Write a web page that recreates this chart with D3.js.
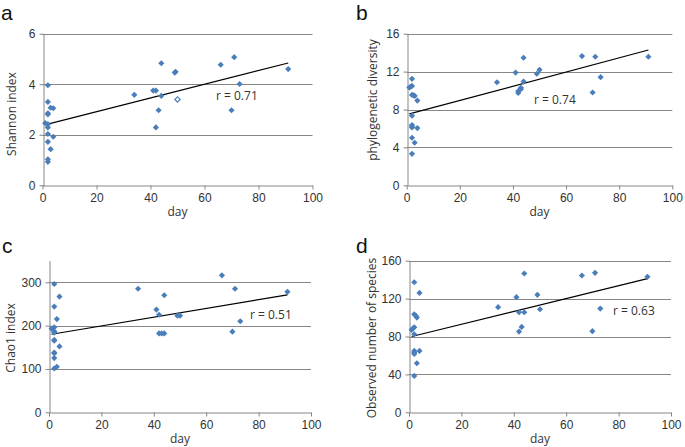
<!DOCTYPE html>
<html>
<head>
<meta charset="utf-8">
<script src="https://cdn.jsdelivr.net/npm/d3@7"></script>
<style>
  body { margin: 0; background: #fff; }
  svg { display: block; font-family: "Open Sans", "Liberation Sans", sans-serif; }
</style>
</head>
<body>
<svg id="chart" width="685" height="447"></svg>
<script>
// values: [day, value]
const dayTicks = [0, 20, 40, 60, 80, 100];

const shannonTicks = [0, 2, 4, 6];
const shannonPts = [
  [2, 3.96], [2, 3.30], [3, 3.07], [4, 3.05], [2, 2.85], [2, 2.81], [1, 2.46], [2, 2.42],
  [2, 2.29], [2, 2.03], [4, 1.92], [2, 1.72], [3, 1.43], [2, 1.03], [2, 0.93],
  [34, 3.58], [41, 3.75], [42, 3.75], [44, 4.83], [44, 3.54], [43, 2.97], [42, 2.29],
  [49, 4.46], [49.3, 4.49], [66, 4.77], [71, 5.07], [70, 2.97], [73, 4.01], [91, 4.60]
];
const shannonOpen = [[50, 3.40]];
const shannonTrend = [[1.2, 2.40], [91, 4.84]];

const pdTicks = [0, 4, 8, 12, 16];
const pdPts = [
  [2, 11.24], [1, 10.32], [1.5, 10.4], [2, 10.49], [2, 9.54], [3, 9.43], [2.6, 9.5], [4, 8.94],
  [2, 7.35], [2, 6.36], [2, 6.25], [2, 6.11], [4, 6.04], [2, 5.02], [3, 4.49], [2, 3.32],
  [34, 10.88], [41, 11.9], [44, 13.46], [44, 10.95], [42, 9.75], [42, 9.95], [43, 10.15], [43, 10.3],
  [49, 11.77], [50, 12.19], [66, 13.64], [71, 13.57], [70, 9.79], [73, 11.41], [91, 13.57]
];
const pdTrend = [[1, 7.53], [91, 14.28]];

const chaoTicks = [0, 100, 200, 300];
const chaoPts = [
  [2, 296], [4, 267], [2, 244], [3, 215], [1, 193], [2, 196], [2, 187], [2, 184],
  [2, 167], [2, 165], [4, 152], [2, 138], [2, 136], [2, 125], [2, 101], [3, 105],
  [34, 285], [41, 237], [42, 225], [44, 270], [42, 182], [43, 182], [44, 182],
  [49, 223], [50, 223], [66, 316], [71, 285], [70, 186], [73, 210], [91, 278]
];
const chaoTrend = [[1, 180], [91, 271]];

const obsTicks = [0, 40, 80, 120, 160];
const obsPts = [
  [2, 137.3], [4, 126], [2, 103.5], [2.6, 101.8], [3, 100], [2, 89.8], [1.5, 88.4], [1, 87],
  [2, 82.4], [2, 64.8], [2, 63], [2, 61.6], [4, 64.8], [3, 51.8], [2, 38.4],
  [34, 111], [41, 121.5], [44, 146.5], [42, 105.6], [44, 105.6], [42, 85.2], [43, 90.1],
  [49, 124], [50, 108.8], [66, 144.4], [71, 147.2], [70, 85.6], [73, 109.5], [91, 143]
];
const obsTrend = [[1, 80], [91, 141]];

// panel layout
const panels = [
  { letter: "a", title: "Shannon index", pts: shannonPts, open: shannonOpen, trend: shannonTrend,
    ticks: shannonTicks, yMax: 6, r: "r = 0.71", l: 42.5, rt: 312.5, t: 33.7, b: 185.3,
    letterPos: [1, 19.5], titleX: 11, titleY: 114, rPos: [216, 100] },
  { letter: "b", title: "phylogenetic diversity", pts: pdPts, open: [], trend: pdTrend,
    ticks: pdTicks, yMax: 16, r: "r = 0.74", l: 406.7, rt: 672.3, t: 33.7, b: 185.3,
    letterPos: [356, 19.5], titleX: 372, titleY: 100, rPos: [534, 104] },
  { letter: "c", title: "Chao1 index", pts: chaoPts, open: [], trend: chaoTrend,
    ticks: chaoTicks, yMax: 350, r: "r = 0.51", l: 49, rt: 311, t: 260.6, b: 412.3,
    letterPos: [2, 253], titleX: 10, titleY: 338, rPos: [250, 319] },
  { letter: "d", title: "Observed number of species", pts: obsPts, open: [], trend: obsTrend,
    ticks: obsTicks, yMax: 160, r: "r = 0.63", l: 409, rt: 671, t: 260.7, b: 412.3,
    letterPos: [356, 253], titleX: 371, titleY: 338, rPos: [613, 315] }
];

const axisColor = "#868686";
const textColor = "#333";
const markColor = "#4a7ebb";

const svg = d3.select("#chart");
const diamond = d3.symbol().type(d3.symbolSquare).size(19);

panels.forEach(p => {
  const x = d3.scaleLinear().domain([0, 100]).range([p.l, p.rt]);
  const y = d3.scaleLinear().domain([0, p.yMax]).range([p.b, p.t]);
  const g = svg.append("g");

  // gridlines
  g.append("g")
    .selectAll("line")
    .data(p.ticks.filter(v => v > 0))
    .join("line")
      .attr("x1", p.l).attr("x2", p.rt)
      .attr("y1", d => Math.round(y(d)) + 0.5).attr("y2", d => Math.round(y(d)) + 0.5)
      .attr("stroke", axisColor);

  const yAxis = g.append("g")
    .attr("transform", `translate(${Math.round(p.l) + 0.5},0)`)
    .call(d3.axisLeft(y).tickValues(p.ticks).tickFormat(d3.format("d"))
      .tickSize(4).tickSizeOuter(0).tickPadding(4));
  const xAxis = g.append("g")
    .attr("transform", `translate(0,${Math.round(p.b) + 0.5})`)
    .call(d3.axisBottom(x).tickValues(dayTicks).tickFormat(d3.format("d"))
      .tickSize(4).tickSizeOuter(0).tickPadding(4));

  [yAxis, xAxis].forEach(a => {
    a.select(".domain").attr("stroke", axisColor);
    a.selectAll(".tick line").attr("stroke", axisColor);
    a.selectAll(".tick text").attr("fill", textColor).attr("font-size", 12);
  });

  // trend line
  g.append("path")
    .datum(p.trend)
    .attr("fill", "none")
    .attr("stroke", "#000")
    .attr("stroke-width", 1.2)
    .attr("d", d3.line().x(d => x(d[0])).y(d => y(d[1])));

  // points
  g.append("g")
    .selectAll("path")
    .data(p.pts)
    .join("path")
      .attr("d", diamond)
      .attr("fill", markColor)
      .attr("transform", d => `translate(${x(d[0])},${y(d[1])}) rotate(45)`);

  g.append("g")
    .selectAll("path")
    .data(p.open)
    .join("path")
      .attr("d", d3.symbol().type(d3.symbolSquare).size(14))
      .attr("fill", "#fff")
      .attr("stroke", markColor)
      .attr("stroke-width", 1.2)
      .attr("transform", d => `translate(${x(d[0])},${y(d[1])}) rotate(45)`);

  // texts
  g.append("text")
    .attr("x", p.rPos[0]).attr("y", p.rPos[1])
    .attr("font-size", 12).attr("fill", textColor)
    .text(p.r);

  g.append("text")
    .attr("x", (p.l + p.rt) / 2).attr("y", p.b + 31)
    .attr("text-anchor", "middle")
    .attr("font-size", 12).attr("fill", textColor)
    .text("day");

  g.append("text")
    .attr("transform", `translate(${p.titleX},${p.titleY}) rotate(-90)`)
    .attr("text-anchor", "middle")
    .attr("dominant-baseline", "central")
    .attr("font-size", 12).attr("fill", textColor)
    .text(p.title);

  g.append("text")
    .attr("x", p.letterPos[0]).attr("y", p.letterPos[1])
    .attr("font-family", "'Liberation Sans', Arial, sans-serif")
    .attr("font-size", 21).attr("fill", "#111")
    .text(p.letter);
});
</script>
</body>
</html>
